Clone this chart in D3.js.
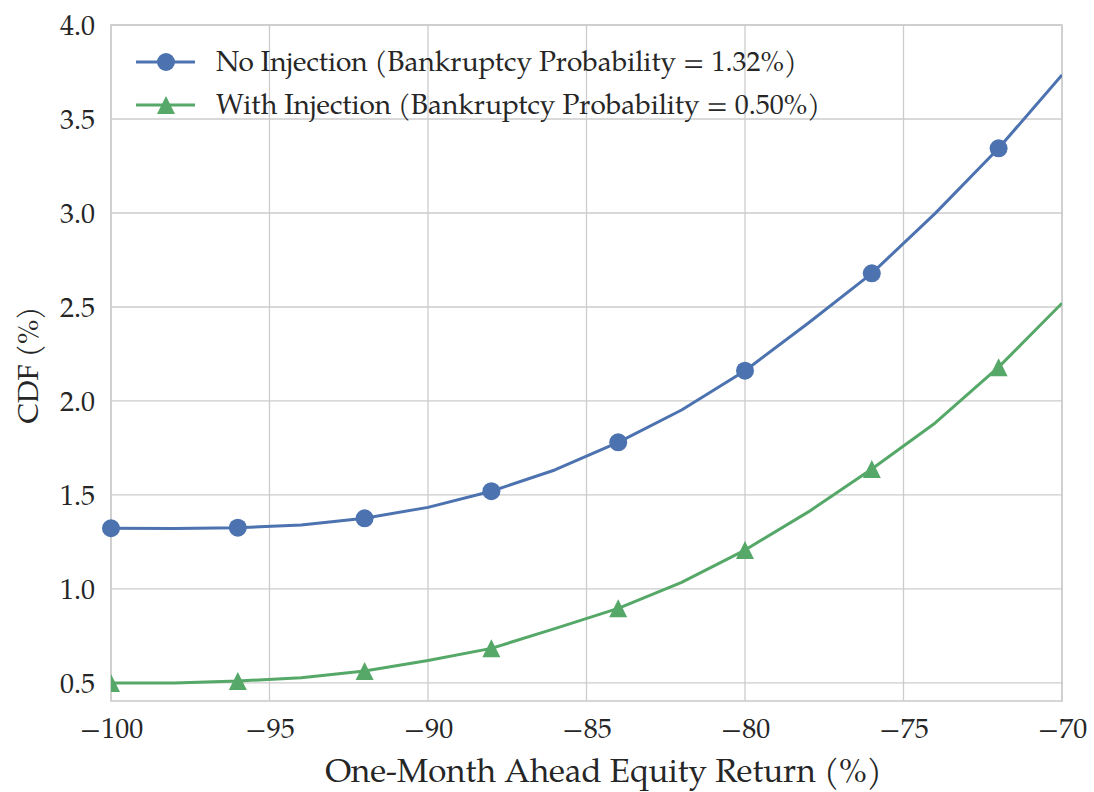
<!DOCTYPE html>
<html>
<head>
<meta charset="utf-8">
<script src="https://cdn.jsdelivr.net/npm/d3@7"></script>
<style>
  html, body { margin: 0; padding: 0; background: #ffffff; }
  svg text { font-family: "TeX Gyre Pagella", "Palatino Linotype", Palatino, "URW Palladio L", "Liberation Serif", "DejaVu Serif", serif; fill: #262626; }
</style>
</head>
<body>
<svg id="chart" width="1094" height="792"></svg>
<script>
// ---- data ----
const returns = [-100, -98, -96, -94, -92, -90, -88, -86, -84, -82, -80, -78, -76, -74, -72, -70];
const noInjection = [1.323, 1.322, 1.326, 1.340, 1.376, 1.434, 1.520, 1.633, 1.780, 1.952, 2.161, 2.415, 2.679, 2.998, 3.344, 3.734];
const withInjection = [0.500, 0.500, 0.510, 0.528, 0.564, 0.619, 0.684, 0.789, 0.897, 1.035, 1.207, 1.410, 1.638, 1.883, 2.180, 2.520];
const xTicks = [-100, -95, -90, -85, -80, -75, -70];
const yTicks = [0.5, 1.0, 1.5, 2.0, 2.5, 3.0, 3.5, 4.0];
const seriesNames = ["No Injection (Bankruptcy Probability = 1.32%)", "With Injection (Bankruptcy Probability = 0.50%)"];
const seriesColors = ["#4C72B0", "#55A868"];
const xLabel = "One-Month Ahead Equity Return (%)";
const yLabel = "CDF (%)";

// ---- layout ----
const L = 111, R = 1062, T = 25, B = 701;
const svg = d3.select("#chart");
const x = d3.scaleLinear().domain([-100, -70]).range([L, R]);
const y = d3.scaleLinear().domain([0.404, 4.0]).range([B, T]);

// clip
svg.append("defs").append("clipPath").attr("id", "plotclip")
  .append("rect").attr("x", L).attr("y", T).attr("width", R - L).attr("height", B - T);

// grid
const grid = svg.append("g");
grid.selectAll("line.vx").data(xTicks).enter().append("line")
  .attr("x1", d => x(d)).attr("x2", d => x(d)).attr("y1", T).attr("y2", B)
  .attr("stroke", "#cccccc").attr("stroke-width", 1.3);
grid.selectAll("line.hy").data(yTicks).enter().append("line")
  .attr("y1", d => y(d)).attr("y2", d => y(d)).attr("x1", L).attr("x2", R)
  .attr("stroke", "#cccccc").attr("stroke-width", 1.3);

// spines
svg.append("rect").attr("x", L).attr("y", T).attr("width", R - L).attr("height", B - T)
  .attr("fill", "none").attr("stroke", "#cccccc").attr("stroke-width", 1.6);

// axes (text via d3 axis)
const xAxis = d3.axisBottom(x).tickValues(xTicks).tickSize(0).tickPadding(0)
  .tickFormat(d => (d < 0 ? "\u2212" : "") + Math.abs(d));
const gx = svg.append("g").attr("transform", `translate(0,${B})`).call(xAxis);
gx.select(".domain").remove();
gx.selectAll("text").attr("font-size", 28).attr("dy", null).attr("y", 37)
  .style("fill", "#262626");

const yAxis = d3.axisLeft(y).tickValues(yTicks).tickSize(0).tickPadding(0)
  .tickFormat(d3.format(".1f"));
const gy = svg.append("g").attr("transform", `translate(${L},0)`).call(yAxis);
gy.select(".domain").remove();
gy.selectAll("text").attr("font-size", 28).attr("x", -16).attr("dy", "0.33em")
  .style("fill", "#262626");
svg.selectAll(".tick text").attr("font-family", null);

// axis labels
svg.append("text").attr("x", (L + R) / 2 + 17).attr("y", 782).attr("text-anchor", "middle")
  .attr("font-size", 33).text(xLabel);
svg.append("text").attr("transform", `translate(38,${(T + B) / 2 + 2}) rotate(-90)`)
  .attr("text-anchor", "middle").attr("font-size", 29).text(yLabel);

// lines
const line = d3.line().x(d => x(d[0])).y(d => y(d[1]));
const series = [noInjection, withInjection];
const plot = svg.append("g");
series.forEach((vals, si) => {
  const pts = returns.map((r, i) => [r, vals[i]]);
  plot.append("path").datum(pts).attr("d", line)
    .attr("fill", "none").attr("stroke", seriesColors[si]).attr("stroke-width", 3)
    .attr("stroke-linejoin", "round").attr("clip-path", "url(#plotclip)");
});

const triPath = (s) => `M0,${-s}L${s},${s}L${-s},${s}Z`;

// markers (every other point)
const mk = pts => pts.filter((d, i) => i % 2 === 0);
const bluePts = mk(returns.map((r, i) => [r, noInjection[i]]));
plot.selectAll("circle.b").data(bluePts).enter().append("circle")
  .attr("cx", d => x(d[0])).attr("cy", d => y(d[1])).attr("r", 9)
  .attr("fill", seriesColors[0]);
const greenPts = mk(returns.map((r, i) => [r, withInjection[i]]));
const gm = plot.append("g").attr("clip-path", "url(#plotclip)");
gm.selectAll("path.g").data(greenPts).enter().append("path")
  .attr("d", triPath(9))
  .attr("transform", d => `translate(${x(d[0])},${y(d[1])})`)
  .attr("fill", seriesColors[1]);

// legend
const legY = [62, 105];
const leg = svg.append("g");
seriesNames.forEach((name, i) => {
  leg.append("line").attr("x1", 136).attr("x2", 195).attr("y1", legY[i]).attr("y2", legY[i])
    .attr("stroke", seriesColors[i]).attr("stroke-width", 3);
  if (i === 0) {
    leg.append("circle").attr("cx", 166).attr("cy", legY[i]).attr("r", 9).attr("fill", seriesColors[i]);
  } else {
    leg.append("path").attr("d", triPath(9)).attr("transform", `translate(166,${legY[i]})`).attr("fill", seriesColors[i]);
  }
  leg.append("text").attr("x", 216).attr("y", legY[i]).attr("dy", "0.33em")
    .attr("font-size", 28).text(name);
});
</script>
</body>
</html>
